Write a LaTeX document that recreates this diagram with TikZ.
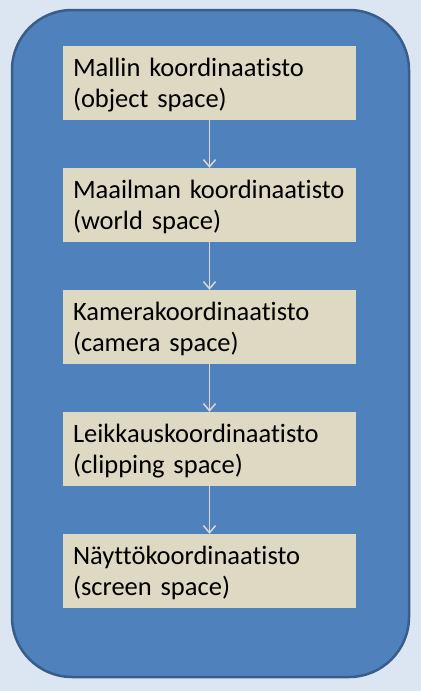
\documentclass[tikz,border=0pt]{standalone}
\usepackage{fontspec}
\setmainfont{Carlito}[Ligatures=NoCommon]
\usetikzlibrary{arrows.meta}
\definecolor{bgblue}{HTML}{DCE6F2}
\definecolor{panelblue}{HTML}{4F81BD}
\definecolor{panelborder}{HTML}{385D8A}
\definecolor{boxfill}{HTML}{DDD9C3}
\definecolor{arrowgray}{HTML}{D9D9D9}
\newcommand{\twolines}[2]{\rule{0pt}{23pt}\mbox{#1}\\\mbox{#2}}
\tikzset{
  stagebox/.style={draw=none, fill=boxfill, minimum width=293pt, minimum height=74pt,
    text width=273pt, inner xsep=10pt, inner ysep=0pt, align=left,
    font=\fontsize{26.5pt}{31pt}\selectfont},
  flowarrow/.style={draw=arrowgray, line width=1.5pt, -{Straight Barb[length=7pt,width=12pt,line width=1.5pt]}}
}
\begin{document}
\begin{tikzpicture}[x=1pt,y=-1pt]
\useasboundingbox[fill=bgblue] (0,0) rectangle (421,691);
\path[fill=panelblue, draw=panelborder, line width=2.5pt, rounded corners=60pt] (12,10) rectangle (409,677);
\node[stagebox] (s1) at (209.5,83) {\twolines{Mallin koordinaatisto}{(object space)}};
\node[stagebox] (s2) at (209.5,205) {\twolines{Maailman koordinaatisto}{(world space)}};
\node[stagebox] (s3) at (209.5,327) {\twolines{Kamerakoordinaatisto}{(camera space)}};
\node[stagebox] (s4) at (209.5,449) {\twolines{Leikkauskoordinaatisto}{(clipping space)}};
\node[stagebox] (s5) at (209.5,571) {\twolines{Näyttökoordinaatisto}{(screen space)}};
\draw[flowarrow] (s1) -- (s2);
\draw[flowarrow] (s2) -- (s3);
\draw[flowarrow] (s3) -- (s4);
\draw[flowarrow] (s4) -- (s5);
\end{tikzpicture}
\end{document}
